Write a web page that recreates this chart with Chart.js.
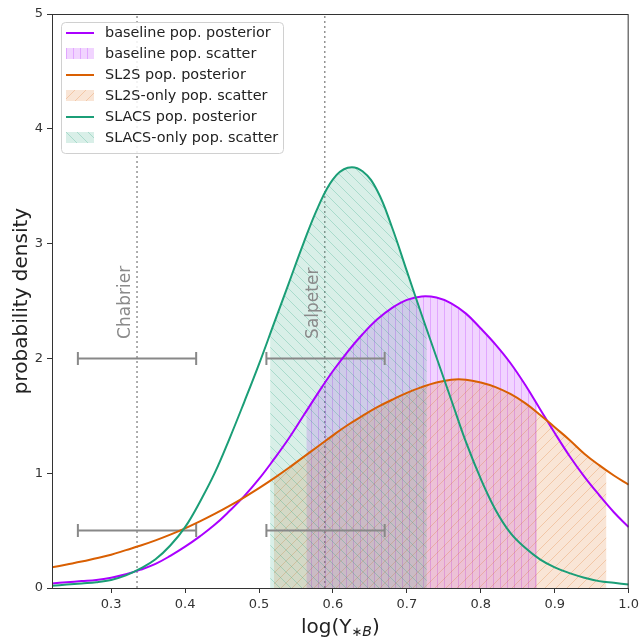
<!DOCTYPE html>
<html>
<head>
<meta charset="utf-8">
<script src="https://cdn.jsdelivr.net/npm/chart.js@4/dist/chart.umd.min.js"></script>
<style>
  html, body { margin: 0; padding: 0; background: #fff; }
  #wrap { width: 643px; height: 637px; }
</style>
</head>
<body>
<div id="wrap"><canvas id="c" width="643" height="637"></canvas></div>
<script>
// ===== data =====
const xGrid = [0.22, 0.24, 0.26, 0.28, 0.30, 0.32, 0.34, 0.36, 0.38, 0.40,
               0.42, 0.44, 0.46, 0.48, 0.50, 0.52, 0.54, 0.56, 0.58, 0.60,
               0.62, 0.64, 0.66, 0.68, 0.70, 0.72, 0.74, 0.76, 0.78, 0.80,
               0.82, 0.84, 0.86, 0.88, 0.90, 0.92, 0.94, 0.96, 0.98, 1.00];

const baselinePost = [0.04, 0.05, 0.06, 0.07, 0.09, 0.12, 0.16, 0.21, 0.28, 0.36,
                      0.45, 0.55, 0.67, 0.80, 0.95, 1.12, 1.30, 1.50, 1.70, 1.89,
                      2.06, 2.21, 2.34, 2.44, 2.51, 2.54, 2.53, 2.48, 2.39, 2.26,
                      2.12, 1.96, 1.77, 1.56, 1.35, 1.15, 0.97, 0.81, 0.66, 0.53];

const sl2sPost = [0.18, 0.205, 0.23, 0.26, 0.29, 0.33, 0.37, 0.415, 0.465, 0.52,
                  0.58, 0.645, 0.715, 0.79, 0.87, 0.955, 1.045, 1.14, 1.235, 1.33,
                  1.42, 1.50, 1.575, 1.64, 1.70, 1.75, 1.79, 1.815, 1.815, 1.79,
                  1.75, 1.69, 1.61, 1.51, 1.40, 1.29, 1.17, 1.07, 0.98, 0.90];

const slacsPost = [0.02, 0.03, 0.04, 0.05, 0.07, 0.11, 0.17, 0.25, 0.37, 0.53,
                   0.75, 1.00, 1.30, 1.62, 1.95, 2.30, 2.65, 3.00, 3.32, 3.56,
                   3.66, 3.63, 3.46, 3.14, 2.76, 2.38, 2.01, 1.64, 1.27, 0.95,
                   0.68, 0.48, 0.35, 0.25, 0.18, 0.13, 0.09, 0.06, 0.045, 0.03];

// scatter bands: [x, y] at the left and right edge of each band
const baselineScatterEdge = [[0.564, 1.54], [0.876, 1.60]];
const sl2sScatterEdge = [[0.520, 0.955], [0.970, 1.02]];
const slacsScatterEdge = [[0.515, 2.21], [0.727, 2.25]];

// IMF reference lines and their error bars
const imfNames = ["Chabrier", "Salpeter"];
const imfValues = [0.335, 0.589];
const imfLabelY = 2.17;
const errBarRanges = [[0.255, 0.415], [0.51, 0.67]];
const errBarLevels = [2.0, 0.5];

const xTicks = [0.3, 0.4, 0.5, 0.6, 0.7, 0.8, 0.9, 1.0];
const yTicks = [0, 1, 2, 3, 4, 5];

const legendLabels = ["baseline pop. posterior", "baseline pop. scatter",
                      "SL2S pop. posterior", "SL2S-only pop. scatter",
                      "SLACS pop. posterior", "SLACS-only pop. scatter"];

// ===== colours and hatches =====
const PURPLE = "#aa00ff", ORANGE = "#d95f02", GREEN = "#1b9e77", GREY = "#888888";

function hatch(bg, line, kind, size) {
  const c = document.createElement("canvas");
  c.width = c.height = size;
  const g = c.getContext("2d");
  g.fillStyle = bg;
  g.fillRect(0, 0, size, size);
  g.strokeStyle = line;
  g.lineWidth = 1;
  g.beginPath();
  if (kind === "|") {
    g.moveTo(size / 2, 0); g.lineTo(size / 2, size);
  } else {
    for (const k of [-size, 0, size]) {
      if (kind === "/") { g.moveTo(k, size); g.lineTo(k + size, 0); }
      else { g.moveTo(k, 0); g.lineTo(k + size, size); }
    }
  }
  g.stroke();
  return g.createPattern(c, "repeat");
}

const purpleHatch = hatch("rgba(170,0,255,0.17)", "rgba(170,0,255,0.22)", "|", 7);
const orangeHatch = hatch("rgba(217,95,2,0.16)", "rgba(217,95,2,0.22)", "/", 11);
const greenHatch = hatch("rgba(27,158,119,0.17)", "rgba(27,158,119,0.25)", "\\", 11);

// ===== build datasets =====
const pts = ys => xGrid.map((x, i) => ({ x: x, y: ys[i] }));

function band(ys, edge) {
  const inside = pts(ys).filter(p => p.x > edge[0][0] && p.x < edge[1][0]);
  return [{ x: edge[0][0], y: edge[0][1] }, ...inside, { x: edge[1][0], y: edge[1][1] }];
}

const curve = (data, color) => ({
  data: data, showLine: true, borderColor: color, borderWidth: 2,
  pointRadius: 0, fill: false, tension: 0.4
});

const fillBand = (data, pattern) => ({
  data: data, showLine: true, borderWidth: 0, borderColor: "rgba(0,0,0,0)",
  backgroundColor: pattern, pointRadius: 0, fill: "origin", tension: 0.4
});

const datasets = [
  curve(pts(slacsPost), GREEN),
  curve(pts(sl2sPost), ORANGE),
  curve(pts(baselinePost), PURPLE)
];

errBarLevels.forEach(lvl => {
  errBarRanges.forEach(r => {
    datasets.push({
      data: [{ x: r[0], y: lvl }, { x: r[1], y: lvl }],
      showLine: true, borderColor: GREY, borderWidth: 2,
      pointStyle: "line", pointRotation: 90, pointRadius: 6.5,
      pointBorderColor: GREY, pointBorderWidth: 2, pointHoverRadius: 6.5
    });
  });
});

datasets.push(
  fillBand(band(slacsPost, slacsScatterEdge), greenHatch),
  fillBand(band(sl2sPost, sl2sScatterEdge), orangeHatch),
  fillBand(band(baselinePost, baselineScatterEdge), purpleHatch)
);

imfValues.forEach(v => {
  datasets.push({
    data: [{ x: v, y: 0 }, { x: v, y: 5 }],
    showLine: true, borderColor: "#777", borderWidth: 1.2,
    borderDash: [2, 3], pointRadius: 0
  });
});

// ===== drawing helpers (frame, labels, legend, x title) =====
const extras = {
  id: "extras",
  afterDraw(chart) {
    const ctx = chart.ctx;
    const a = chart.chartArea;
    const xs = chart.scales.x, ys = chart.scales.y;
    ctx.save();

    // frame
    ctx.strokeStyle = "#333";
    ctx.lineWidth = 1;
    ctx.strokeRect(a.left + 0.5, a.top + 0.5, a.right - a.left - 1, a.bottom - a.top);

    // IMF labels
    ctx.fillStyle = "#8a8a8a";
    ctx.font = "17px 'DejaVu Sans'";
    ctx.textBaseline = "middle";
    ctx.textAlign = "left";
    imfNames.forEach((name, i) => {
      ctx.save();
      ctx.translate(xs.getPixelForValue(imfValues[i]) - 11, ys.getPixelForValue(imfLabelY));
      ctx.rotate(-Math.PI / 2);
      ctx.fillText(name, 0, 0);
      ctx.restore();
    });

    // legend
    const lx = a.left + 9, ly = a.top + 8, lw = 222, lh = 131;
    ctx.beginPath();
    ctx.roundRect(lx + 0.5, ly + 0.5, lw, lh, 4);
    ctx.fillStyle = "rgba(255,255,255,0.85)";
    ctx.fill();
    ctx.strokeStyle = "#d0d0d0";
    ctx.stroke();
    const swatch = [PURPLE, purpleHatch, ORANGE, orangeHatch, GREEN, greenHatch];
    ctx.font = "14.4px 'DejaVu Sans'";
    ctx.textAlign = "left";
    ctx.textBaseline = "middle";
    legendLabels.forEach((t, i) => {
      const cy = ly + 11 + i * 21;
      if (i % 2 === 0) {
        ctx.strokeStyle = swatch[i];
        ctx.lineWidth = 2;
        ctx.beginPath();
        ctx.moveTo(lx + 5, cy); ctx.lineTo(lx + 33, cy);
        ctx.stroke();
      } else {
        ctx.fillStyle = swatch[i];
        ctx.fillRect(lx + 5, cy - 6, 28, 11);
      }
      ctx.fillStyle = "#222";
      ctx.fillText(t, lx + 44, cy);
    });

    // x axis title: log(Υ*B)
    const cx = (a.left + a.right) / 2, ty = 633;
    const parts = [
      { t: "log(Υ", f: "20px 'DejaVu Sans'", dy: 0 },
      { t: "∗", f: "13px 'DejaVu Sans'", dy: 3 },
      { t: "B", f: "italic 14px 'DejaVu Sans'", dy: 3 },
      { t: ")", f: "20px 'DejaVu Sans'", dy: 0 }
    ];
    let total = 0;
    parts.forEach(p => { ctx.font = p.f; p.w = ctx.measureText(p.t).width; total += p.w; });
    let px = cx - total / 2;
    ctx.fillStyle = "#222";
    ctx.textBaseline = "alphabetic";
    parts.forEach(p => {
      ctx.font = p.f;
      ctx.fillText(p.t, px, ty + p.dy);
      px += p.w;
    });

    ctx.restore();
  }
};

// ===== chart =====
new Chart(document.getElementById("c"), {
  type: "scatter",
  data: { datasets: datasets },
  options: {
    responsive: false,
    animation: false,
    events: [],
    layout: { padding: { left: 0, right: 12, top: 14, bottom: 0 } },
    plugins: {
      legend: { display: false },
      tooltip: { enabled: false }
    },
    scales: {
      x: {
        type: "linear",
        min: 0.22,
        max: 1.0,
        afterBuildTicks: s => { s.ticks = xTicks.map(v => ({ value: v })); },
        afterFit: s => { s.height = 49; },
        border: { display: false },
        grid: { drawOnChartArea: false, drawTicks: true, tickLength: 5, color: "#333" },
        ticks: {
          color: "#333",
          padding: 4,
          maxRotation: 0,
          font: { size: 13, family: "DejaVu Sans" },
          callback: v => v.toFixed(1)
        }
      },
      y: {
        min: 0,
        max: 5,
        afterBuildTicks: s => { s.ticks = yTicks.map(v => ({ value: v })); },
        afterFit: s => { s.width = 52; },
        border: { display: false },
        grid: { drawOnChartArea: false, drawTicks: true, tickLength: 5, color: "#333" },
        ticks: {
          color: "#333",
          padding: 4,
          font: { size: 13, family: "DejaVu Sans" },
          callback: v => String(v)
        },
        title: {
          display: true,
          text: "probability density",
          color: "#222",
          padding: { top: 10, bottom: 0 },
          font: { size: 20, family: "DejaVu Sans" }
        }
      }
    }
  },
  plugins: [extras]
});
</script>
</body>
</html>
